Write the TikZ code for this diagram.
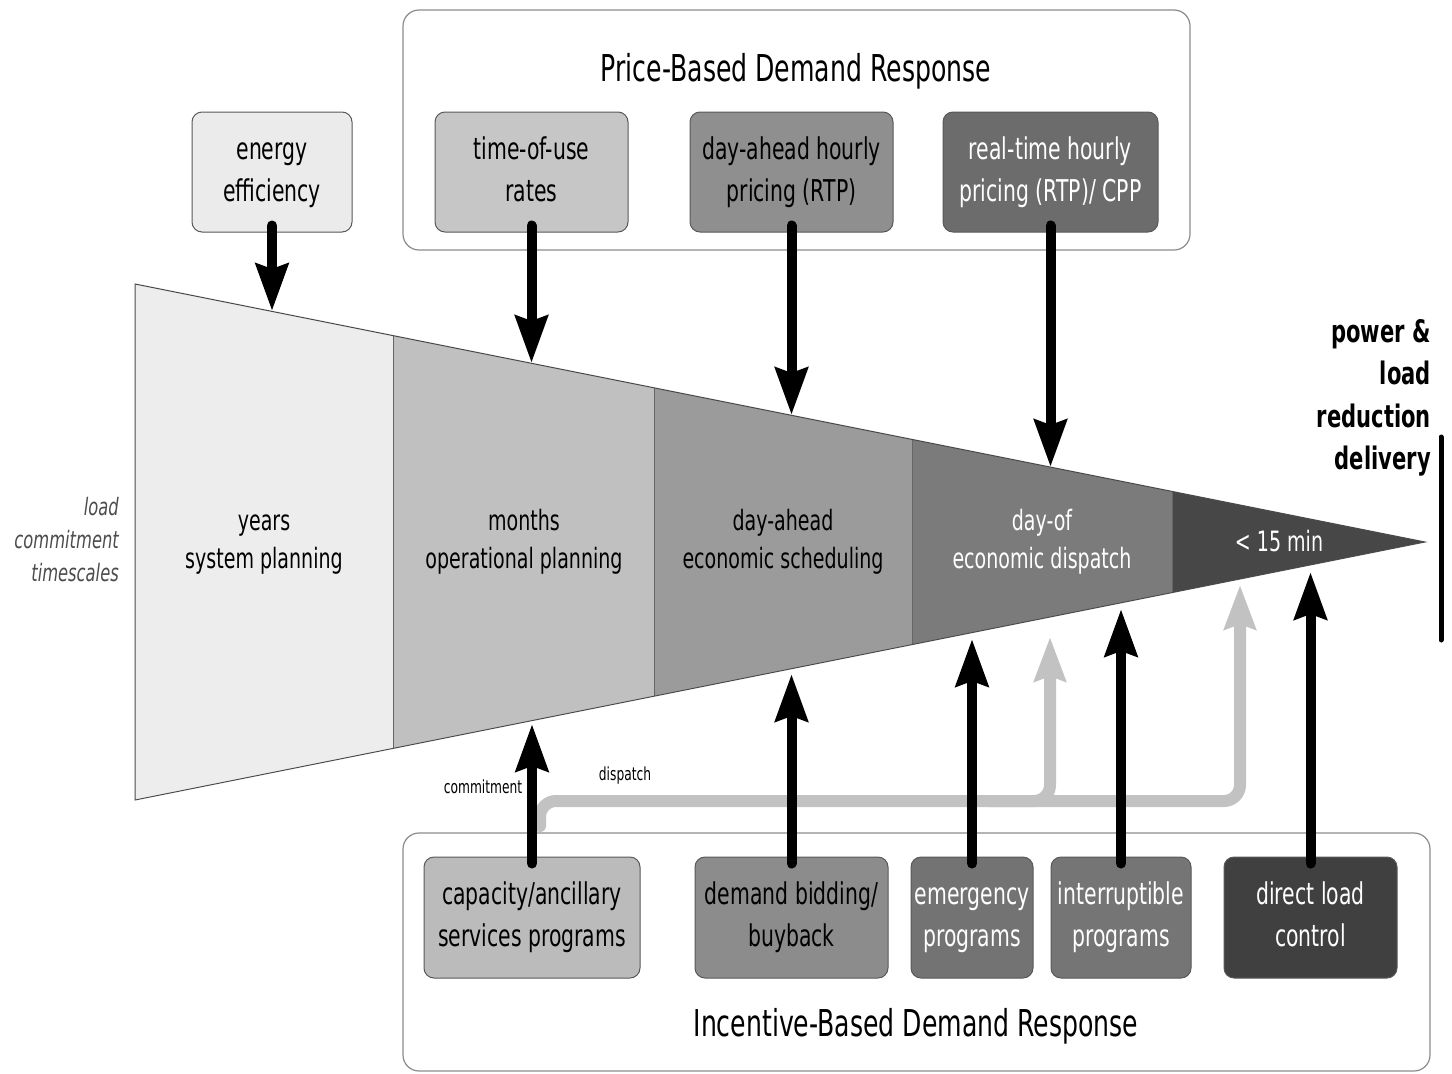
\documentclass[tikz,border=0pt]{standalone}
\usepackage{fontspec}
\setmainfont{DejaVu Sans}[FakeStretch=0.68]
\usetikzlibrary{arrows.meta}
\definecolor{cA}{HTML}{EDEDED}
\definecolor{cB}{HTML}{C0C0C0}
\definecolor{cC}{HTML}{9B9B9B}
\definecolor{cD}{HTML}{7B7B7B}
\definecolor{cE}{HTML}{474747}
\definecolor{fEE}{HTML}{EBEBEB}
\definecolor{fTOU}{HTML}{C6C6C6}
\definecolor{fDAH}{HTML}{8F8F8F}
\definecolor{fRTP}{HTML}{6C6C6C}
\definecolor{fCAP}{HTML}{BBBBBB}
\definecolor{fBID}{HTML}{8C8C8C}
\definecolor{fEMG}{HTML}{737373}
\definecolor{fINT}{HTML}{757575}
\definecolor{fDLC}{HTML}{404040}
\definecolor{gA}{HTML}{C2C2C2}
\newcommand\bxfont{\fontsize{30}{42}\selectfont}
\newcommand\tlfont{\fontsize{28}{38}\selectfont}
\newcommand\titlefnt{\fontsize{37}{44}\selectfont}
\newcommand\sx{\strut}
\begin{document}
\begin{tikzpicture}[x=1pt,y=-1pt,
  box/.style={draw=black!65, line width=1pt, rounded corners=10pt, inner sep=0pt,
    minimum height=120pt, align=center, font=\bxfont},
  grp/.style={draw=black!45, line width=1.2pt, rounded corners=16pt, inner sep=0pt},
  tl/.style={align=center, font=\tlfont, inner sep=0pt},
  blk/.style={draw=black, line width=10pt, line cap=round,
    -{Stealth[length=47pt,width=32pt,inset=5pt]}},
  gry/.style={draw=gA, line width=12pt, line cap=round,
    -{Stealth[length=44pt,width=31pt,inset=5pt]}},
]
\useasboundingbox (0,0) rectangle (1452,1074);
\fill[white] (0,0) rectangle (1452,1074);

% group boxes
\node[grp, minimum width=787pt, minimum height=240pt] (pbox) at (796.5,130) {};
\node[grp, minimum width=1027pt, minimum height=238pt] (ibox) at (916.5,952) {};
\node[font=\titlefnt, inner sep=0pt] (ptitle) at (796,71) {Price-Based Demand Response};
\node[font=\titlefnt, inner sep=0pt] (ititle) at (916,1026) {Incentive-Based Demand Response};

% triangle sections
\fill[cA] (135,284) -- (393,335.6) -- (393,748.4) -- (135,800) -- cycle;
\fill[cB] (393,335.6) -- (654,387.8) -- (654,696.2) -- (393,748.4) -- cycle;
\fill[cC] (654,387.8) -- (912,439.4) -- (912,644.6) -- (654,696.2) -- cycle;
\fill[cD] (912,439.4) -- (1172,491.4) -- (1172,592.6) -- (912,644.6) -- cycle;
\fill[cE] (1172,491.4) -- (1425,542) -- (1172,592.6) -- cycle;
\draw[black!60, line width=0.8pt] (393,335.6) -- (393,748.4)
  (654,387.8) -- (654,696.2) (912,439.4) -- (912,644.6) (1172,491.4) -- (1172,592.6);
\draw[black!70, line width=1pt] (135,284) -- (1425,542) -- (135,800) -- cycle;

\node[tl] (lyears) at (264,542) {years\sx\\system planning\sx};
\node[tl] (lmonths) at (524,542) {months\sx\\operational planning\sx};
\node[tl] (lda) at (783,542) {day-ahead\sx\\economic scheduling\sx};
\node[tl, text=white] (ldo) at (1042,542) {day-of\sx\\economic dispatch\sx};
\node[tl, text=white] (l15) at (1279,541) {< 15 min};

% side labels
\node[anchor=east, align=right, inner sep=0pt, text=black!70,
  font=\fontsize{24}{33}\selectfont\itshape] (lct) at (119,540)
  {load\\commitment\\timescales};
\node[anchor=east, align=right, inner sep=0pt,
  font=\fontsize{31}{42.5}\selectfont\bfseries] (lpw) at (1431,398)
  {power \&\\load\\reduction\\delivery};
\coordinate (vt) at (1441,437);
\coordinate (vb) at (1441,640);
\draw[line width=5pt, line cap=round] (vt) -- (vb);

% boxes
\node[box, fill=fEE, minimum width=160pt] (ee) at (272,172) {energy\sx\\efficiency\sx};
\node[box, fill=fTOU, minimum width=193pt] (tou) at (531.5,172) {time-of-use\sx\\rates\sx};
\node[box, fill=fDAH, minimum width=203pt] (dah) at (791.5,172) {day-ahead hourly\sx\\pricing (RTP)\sx};
\node[box, fill=fRTP, minimum width=215pt, text=white] (rtp) at (1050.5,172) {real-time hourly\sx\\pricing (RTP)/ CPP\sx};

\node[box, fill=fCAP, minimum width=216pt, minimum height=121pt] (cap) at (532,917.5) {capacity/ancillary\sx\\services programs\sx};
\node[box, fill=fBID, minimum width=193pt, minimum height=121pt] (bid) at (791.5,917.5) {demand bidding/\sx\\buyback\sx};
\node[box, fill=fEMG, minimum width=122pt, minimum height=121pt, text=white] (emg) at (972,917.5) {emergency\sx\\programs\sx};
\node[box, fill=fINT, minimum width=140pt, minimum height=121pt, text=white] (intr) at (1121,917.5) {interruptible\sx\\programs\sx};
\node[box, fill=fDLC, minimum width=173pt, minimum height=121pt, text=white] (dlc) at (1310.5,917.5) {direct load\sx\\control\sx};

% tips
\coordinate (eeT) at (272,311);
\coordinate (touT) at (531.5,363);
\coordinate (dahT) at (791.5,415);
\coordinate (rtpT) at (1050.5,467);
\coordinate (capT) at (532,724);
\coordinate (bidT) at (791.5,674);
\coordinate (emgT) at (972,639);
\coordinate (intrT) at (1121,609);
\coordinate (dlcT) at (1310.5,572);
\coordinate (g1T) at (1050,637);
\coordinate (g2T) at (1240,585);
\coordinate (gs) at (540,826);
\coordinate (gc2) at (1240,801);
\coordinate (gb) at (990,801);
\coordinate (gc1) at (1050,801);

% gray dispatch path
\draw[gry, rounded corners=16pt] (gs) |- (gc2) -- (g2T);
\draw[gry, rounded corners=16pt, line cap=butt] (gb) -- (gc1) -- (g1T);

% black arrows
\draw[blk] ([yshift=7pt]ee.south) -- (eeT);
\draw[blk] ([yshift=7pt]tou.south) -- (touT);
\draw[blk] ([yshift=7pt]dah.south) -- (dahT);
\draw[blk] ([yshift=7pt]rtp.south) -- (rtpT);
\draw[blk] ([yshift=-7pt]cap.north) -- (capT);
\draw[blk] ([yshift=-7pt]bid.north) -- (bidT);
\draw[blk] ([yshift=-7pt]emg.north) -- (emgT);
\draw[blk] ([yshift=-7pt]intr.north) -- (intrT);
\draw[blk] ([yshift=-7pt]dlc.north) -- (dlcT);

\node[font=\fontsize{18}{20}\selectfont, inner sep=0pt] (lcom) at (483,787) {commitment};
\node[font=\fontsize{18}{20}\selectfont, inner sep=0pt] (ldis) at (625,776) {dispatch};
\end{tikzpicture}
\end{document}
